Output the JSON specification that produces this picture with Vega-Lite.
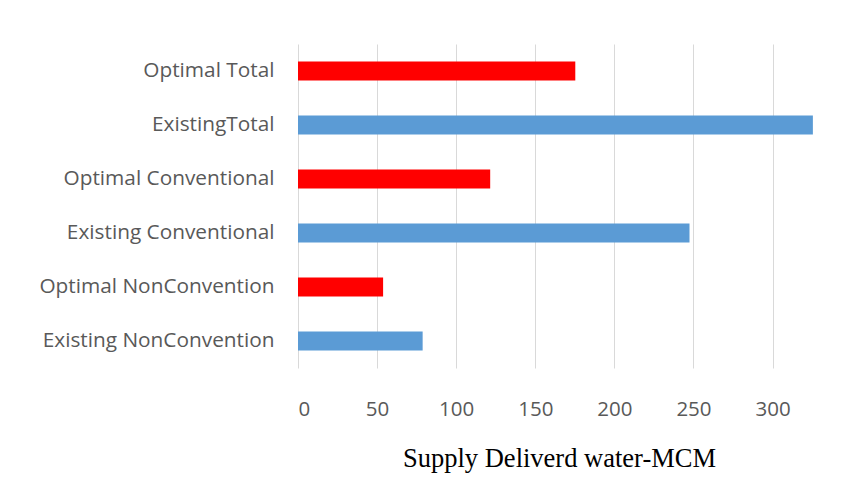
{
  "$schema": "https://vega.github.io/schema/vega-lite/v6.json",
  "width": 522,
  "height": 324,
  "autosize": {"type": "none"},
  "padding": {"left": 298, "top": 44, "right": 35, "bottom": 129},
  "background": "white",
  "config": {"view": {"stroke": null}},
  "data": {
    "values": [
      {"category": "Optimal Total", "value": 175.3, "type": "Optimal"},
      {"category": "ExistingTotal", "value": 325.5, "type": "Existing"},
      {"category": "Optimal Conventional", "value": 121.5, "type": "Optimal"},
      {"category": "Existing Conventional", "value": 247.5, "type": "Existing"},
      {"category": "Optimal NonConvention", "value": 53.8, "type": "Optimal"},
      {"category": "Existing NonConvention", "value": 78.8, "type": "Existing"}
    ]
  },
  "mark": {"type": "bar", "size": 19},
  "encoding": {
    "y": {
      "field": "category",
      "type": "nominal",
      "sort": null,
      "title": null,
      "axis": {
        "domain": false,
        "ticks": false,
        "labelPadding": 24,
        "labelFont": "Open Sans",
        "labelFontSize": 20.8,
        "labelColor": "#595959",
        "labelLimit": 400
      }
    },
    "x": {
      "field": "value",
      "type": "quantitative",
      "scale": {"domain": [0, 330], "nice": false},
      "title": "Supply Deliverd water-MCM",
      "axis": {
        "values": [0, 50, 100, 150, 200, 250, 300],
        "domain": false,
        "ticks": false,
        "gridColor": "#d9d9d9",
        "gridWidth": 1,
        "labelPadding": 31,
        "labelFont": "Open Sans",
        "labelFontSize": 20.5,
        "labelColor": "#595959",
        "titleFont": "Liberation Serif",
        "titleFontSize": 26.5,
        "titleFontWeight": "normal",
        "titleColor": "#000000",
        "titlePadding": 26
      }
    },
    "color": {
      "field": "type",
      "type": "nominal",
      "scale": {"domain": ["Optimal", "Existing"], "range": ["#FF0000", "#5B9BD5"]},
      "legend": null
    }
  }
}
